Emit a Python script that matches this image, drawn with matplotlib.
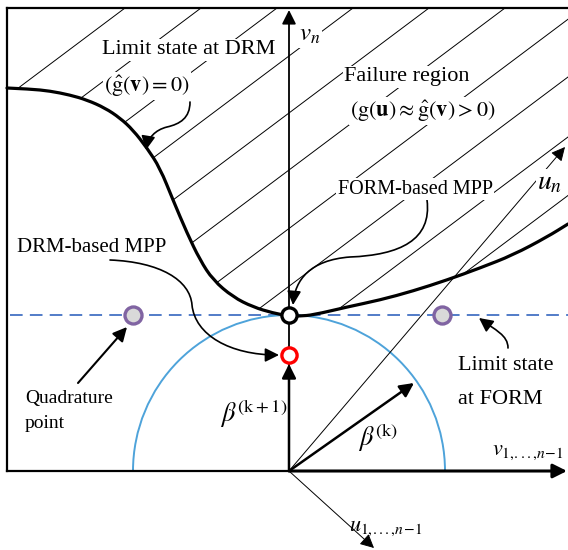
import numpy as np
import matplotlib
matplotlib.use("Agg")
import matplotlib.pyplot as plt
from matplotlib.path import Path
from matplotlib.patches import FancyArrowPatch, Polygon, Arc, PathPatch

plt.rcParams['font.family'] = ['Liberation Serif', 'DejaVu Serif']
plt.rcParams['mathtext.fontset'] = 'stix'

# ---- data (pixel-like schematic coordinates, y grows downward) ----
W, H = 568, 550
frame_left, frame_top, frame_bottom = 7, 8, 471
origin = (289, 471)
beta_k = 156                     # radius of blue circle
mpp_form = (289, 315)
mpp_drm = (289, 355)
quad_x = [133, 442]
quad_y = [315, 315]

curve_x = [7, 30, 50, 70, 87, 105, 120, 133, 147, 160, 173, 187, 200, 213, 233, 253, 273, 289,
           300, 313, 347, 380, 413, 447, 480, 513, 547, 568]
curve_y = [88, 89, 91, 95, 100, 108, 118, 130, 148, 168, 200, 233, 260, 280, 297, 307, 313, 316,
           316, 315, 307, 300, 291, 280, 268, 255, 237, 224]

hatch_top_x = [125, 201, 277, 353, 429, 505, 583, 660, 740, 818, 896]
hatch_slope = 0.75

un_tip = (565, 147)
u1_tip = (374, 548)
betak_tip = (414, 383)

fig = plt.figure(figsize=(5.68, 5.5), dpi=100)
ax = fig.add_axes([0, 0, 1, 1])
ax.set_xlim(0, W)
ax.set_ylim(H, 0)
ax.axis('off')

# smooth path through the read curve points (points used as quadratic controls)
pts = list(zip(curve_x, curve_y))
verts = [pts[0]]
codes = [Path.MOVETO]
for i in range(1, len(pts) - 1):
    mid = ((pts[i][0] + pts[i + 1][0]) / 2, (pts[i][1] + pts[i + 1][1]) / 2)
    verts += [pts[i], mid]
    codes += [Path.CURVE3, Path.CURVE3]
verts.append(pts[-1])
codes.append(Path.LINETO)
curve_path = Path(verts, codes)

# hatch lines clipped to failure region
poly_pts = pts + [(W + 5, curve_y[-1]), (W + 5, frame_top), (frame_left, frame_top)]
clip = Polygon(poly_pts, closed=True, transform=ax.transData, facecolor='none', edgecolor='none')
ax.add_patch(clip)
for xt in hatch_top_x:
    xs = np.array([xt, xt - 900])
    ys = frame_top + hatch_slope * (xt - xs)
    ln, = ax.plot(xs, ys, color='black', lw=0.7, zorder=1)
    ln.set_clip_path(clip)

# frame
ax.plot([frame_left, W], [frame_top, frame_top], color='black', lw=1.6, zorder=3)
ax.plot([frame_left, frame_left], [frame_top, frame_bottom], color='black', lw=1.6, zorder=3)
ax.plot([frame_left, origin[0]], [frame_bottom, frame_bottom], color='black', lw=1.6, zorder=3)

# dashed FORM limit state
ax.plot([10, W], [mpp_form[1], mpp_form[1]], color='#4472C4', lw=1.3, dashes=(7, 4), zorder=2)

# blue circle
ax.add_patch(Arc(origin, 2 * beta_k, 2 * beta_k, theta1=180, theta2=360, color='#4EA3DA', lw=1.4, zorder=2))

# DRM limit state curve
ax.add_patch(PathPatch(curve_path, facecolor='none', edgecolor='black', lw=2.3, zorder=4, capstyle='round'))

def arrow(p0, p1, lw=1.2, hl=0.6, hw=0.3, ms=14, z=5):
    a = FancyArrowPatch(p0, p1, arrowstyle=f'-|>,head_length={hl},head_width={hw}',
                        mutation_scale=ms, lw=lw, color='black', shrinkA=0, shrinkB=0, zorder=z)
    ax.add_patch(a)

def curved(verts, lw=1.2, hl=0.6, hw=0.3, ms=14):
    codes = [Path.MOVETO] + [Path.CURVE4] * (len(verts) - 1)
    a = FancyArrowPatch(path=Path(verts, codes), arrowstyle=f'-|>,head_length={hl},head_width={hw}',
                        mutation_scale=ms, lw=lw, color='black', zorder=5)
    ax.add_patch(a)

# axes
arrow(origin, (289, 10), lw=1.3)
arrow(origin, (567, 471), lw=2.2)
arrow(origin, un_tip, lw=0.7)
arrow(origin, u1_tip, lw=0.7)
arrow(origin, (289, 364), lw=1.8)
arrow(origin, betak_tip, lw=1.8)

# curved annotation arrows
curved([(190, 102), (190, 118), (180, 124), (167, 127), (155, 130), (148, 138), (146, 150)])
curved([(427, 200), (432, 240), (400, 255), (350, 257), (310, 260), (295, 280), (293, 305)])
curved([(110, 260), (160, 262), (190, 280), (192, 305), (195, 335), (230, 355), (279, 355)])
curved([(508, 348), (508, 335), (495, 330), (479, 318)])
arrow((78, 383), (127, 327), lw=1.5)

# points
ax.scatter(quad_x, quad_y, s=150, facecolor='#D9D9D9', edgecolor='#8064A2', linewidths=2.4, zorder=6)
ax.scatter([mpp_form[0]], [mpp_form[1]], s=120, facecolor='white', edgecolor='black', linewidths=2.4, zorder=7)
ax.scatter([mpp_drm[0]], [mpp_drm[1]], s=120, facecolor='white', edgecolor='red', linewidths=2.4, zorder=7)

wb = dict(facecolor='white', edgecolor='none', pad=1)
ax.text(189, 50, 'Limit state at DRM', fontsize=16, ha='center', va='center', bbox=wb, zorder=8)
ax.text(147, 86, r'$(\hat{\mathrm{g}}(\mathbf{v})=0)$', fontsize=16, ha='center', va='center', bbox=wb, zorder=8)
ax.text(407, 77, 'Failure region', fontsize=16, ha='center', va='center', bbox=wb, zorder=8)
ax.text(423, 111, r'$(\mathrm{g}(\mathbf{u})\approx\hat{\mathrm{g}}(\mathbf{v})>0)$', fontsize=16,
        ha='center', va='center', bbox=wb, zorder=8)
ax.text(415, 189, 'FORM-based MPP', fontsize=14.5, ha='center', va='center', bbox=wb, zorder=8)
ax.text(92, 247, 'DRM-based MPP', fontsize=15, ha='center', va='center', zorder=8)
ax.text(25, 398, 'Quadrature', fontsize=14, ha='left', va='center', zorder=8)
ax.text(25, 424, 'point', fontsize=14, ha='left', va='center', zorder=8)
ax.text(458, 365, 'Limit state', fontsize=16, ha='left', va='center', zorder=8)
ax.text(458, 400, 'at FORM', fontsize=16, ha='left', va='center', zorder=8)
ax.text(310, 35, r'$v_n$', fontsize=18, ha='center', va='center', bbox=wb, zorder=8)
ax.text(550, 183, r'$u_n$', fontsize=20, ha='center', va='center', bbox=wb, zorder=8)
ax.text(254, 414, r'$\beta^{(\mathrm{k+1})}$', fontsize=19, ha='center', va='center', zorder=8)
ax.text(378, 438, r'$\beta^{(\mathrm{k})}$', fontsize=19, ha='center', va='center', zorder=8)
ax.text(564, 453, r'$v_{1,\!...,\!n\!-\!1}$', fontsize=16, ha='right', va='center', zorder=8)
ax.text(386, 528, r'$u_{1,\!...,\!n\!-\!1}$', fontsize=16, ha='center', va='center', zorder=8)

fig.savefig('out.png', dpi=100)
